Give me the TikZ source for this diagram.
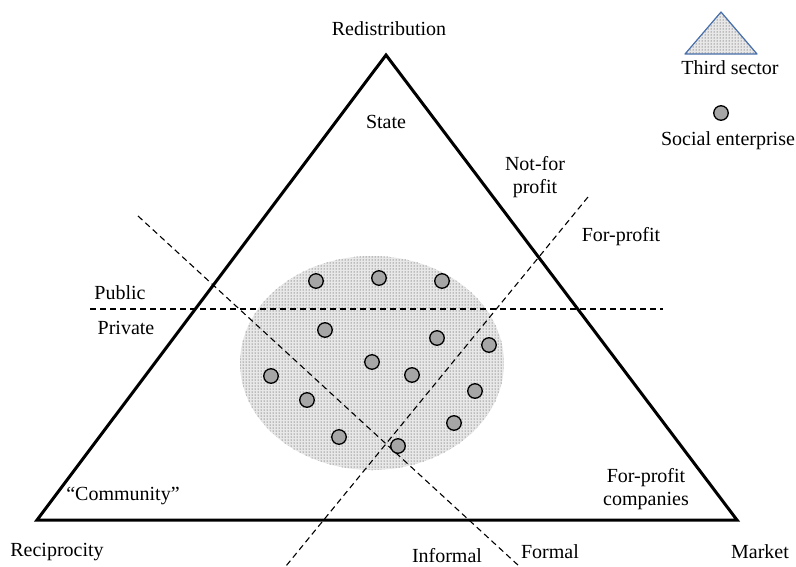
\documentclass[tikz,border=0pt]{standalone}
\usepackage{fontspec}
\setmainfont{Liberation Serif}
\usetikzlibrary{patterns}
\begin{document}
\begin{tikzpicture}[x=1pt,y=-1pt,
  lbl/.style={font=\fontsize{20}{22.5}\selectfont, align=center, inner sep=0pt},
  se/.style={circle, draw=black, line width=1.3pt, fill=black!35, minimum size=14.5pt, inner sep=0pt},
  dsh/.style={dashed, line width=1.1pt, dash pattern=on 6pt off 4pt},
  tri/.style={line width=3pt, line join=miter},
  stipple/.style={pattern=dots, pattern color=black!85}]
\useasboundingbox (0,0) rectangle (796,566);
% third sector ellipse
\fill[black!9] (372,363) ellipse [x radius=132, y radius=107];
\fill[stipple] (372,363) ellipse [x radius=132, y radius=107];
% triangle
\coordinate (R) at (37,520);
\coordinate (T) at (386,55);
\coordinate (M) at (737,520);
\draw[tri] (R) -- (T) -- (M) -- cycle;
% dashed lines
\coordinate (h1) at (90,309);
\coordinate (h2) at (663,309);
\coordinate (d1a) at (138,216);
\coordinate (d1b) at (519,566);
\coordinate (d2a) at (588,197);
\coordinate (d2b) at (286,566);
\draw[dsh] (h1) -- (h2);
\draw[dsh] (d1a) -- (d1b);
\draw[dsh] (d2a) -- (d2b);
% social enterprises
\foreach \p [count=\i] in {(316,281),(379,278),(442,281),(325,330),(437,338),(489,345),(372,362),(271,376),(412,375),(475,391),(307,400),(454,423),(339,437),(398,446)}
  \node[se] (s\i) at \p {};
% labels
\node[lbl] (redis) at (389,29) {Redistribution};
\node[lbl] (state) at (386,122) {State};
\node[lbl] (nfp) at (535,177) {Not-for\\profit};
\node[lbl] (fp) at (621,237) {For-profit};
\node[lbl] (pub) at (120,293) {Public};
\node[lbl] (priv) at (126,328) {Private};
\node[lbl] (comm) at (123,496) {“Community”};
\node[lbl] (fpc) at (646,489) {For-profit\\companies};
\node[lbl] (recip) at (57,552) {Reciprocity};
\node[lbl] (inf) at (447,556) {Informal};
\node[lbl] (form) at (550,552) {Formal};
\node[lbl] (mkt) at (760,552) {Market};
% legend
\coordinate (la) at (721,12);
\coordinate (lb) at (685,54);
\coordinate (lc) at (757,54);
\fill[black!9] (la) -- (lb) -- (lc) -- cycle;
\fill[stipple] (la) -- (lb) -- (lc) -- cycle;
\draw[color={rgb,255:red,70;green,110;blue,170}, line width=1.2pt, line join=round] (la) -- (lb) -- (lc) -- cycle;
\node[lbl] (lts) at (730,68) {Third sector};
\node[se] (lse) at (721,113) {};
\node[lbl] (lsel) at (728,141) {Social enterprise};
\end{tikzpicture}
\end{document}
